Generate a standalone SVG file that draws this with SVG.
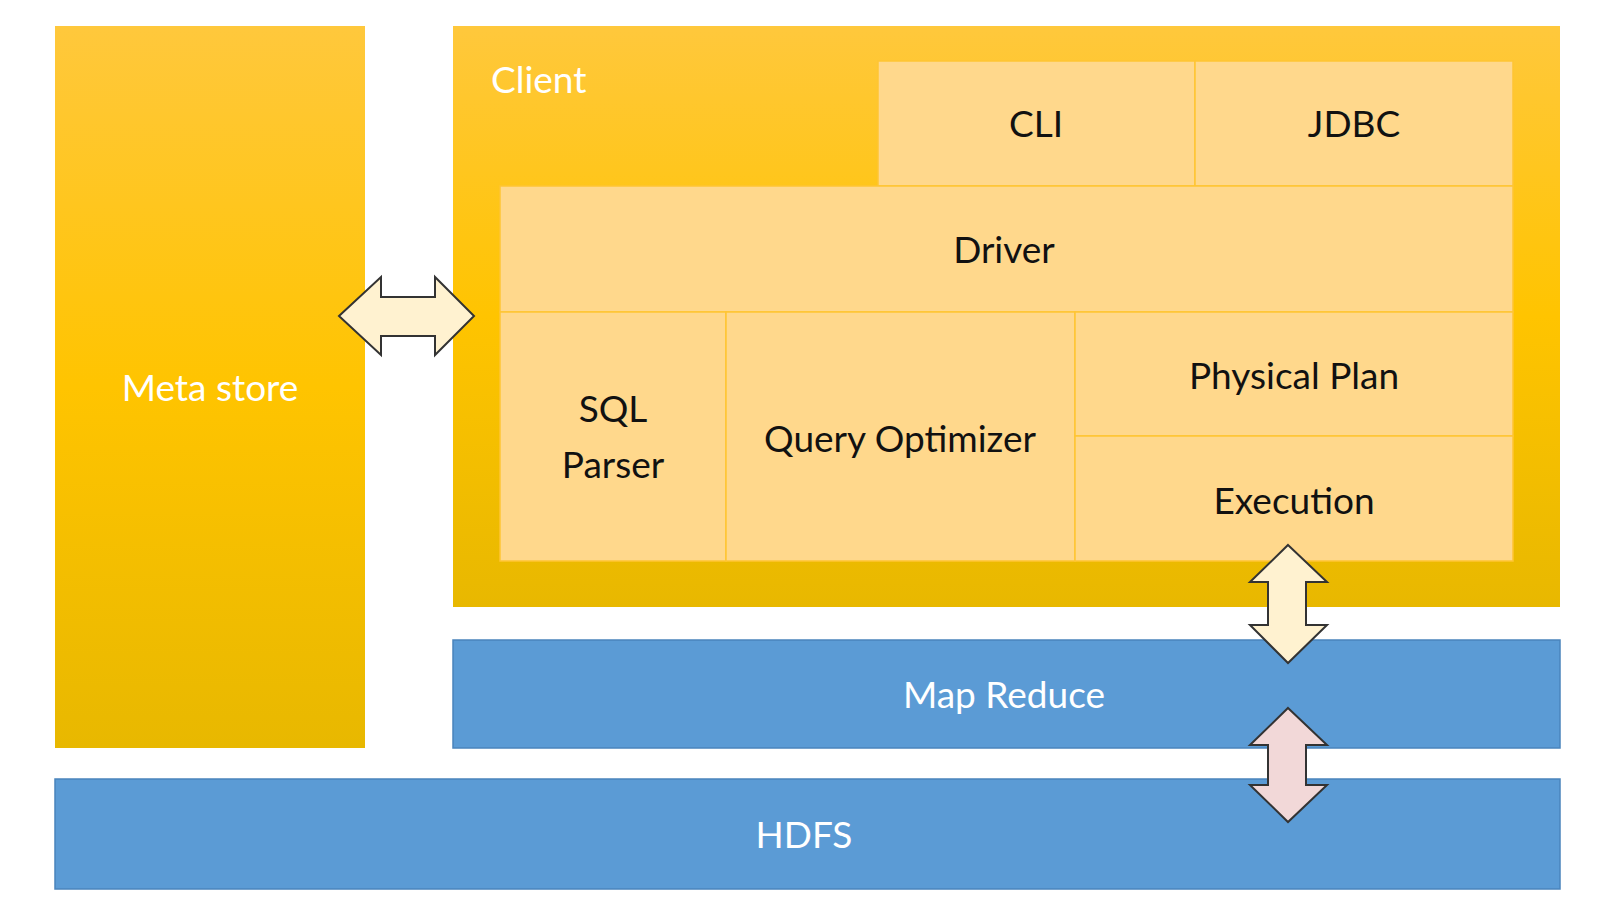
<svg xmlns="http://www.w3.org/2000/svg" width="1622" height="906" viewBox="0 0 1622 906">
<style>
.t{font-family:Lato,"Open Sans",sans-serif;font-size:37px;text-anchor:middle;fill:#111}
.w{fill:#fff}
.in{fill:#FFD88C;stroke:#FFC533;stroke-width:1.5}
.bl{fill:#5B9BD5;stroke:#4A84BC;stroke-width:1.5}
.ar{stroke:#333;stroke-width:2;stroke-linejoin:miter}
</style>
<defs>
<linearGradient id="g1" x1="0" y1="0" x2="0" y2="1"><stop offset="0" stop-color="#FFC83C"/><stop offset="0.5" stop-color="#FFC400"/><stop offset="1" stop-color="#E8B800"/></linearGradient>
</defs>
<rect width="1622" height="906" fill="#fff"/>
<g id="metastore"><rect x="55" y="26" width="310" height="722" fill="url(#g1)"/><text class="t w" x="210" y="401">Meta store</text></g>
<g id="client"><rect x="453" y="26" width="1107" height="581" fill="url(#g1)"/><text class="t w" x="491" y="93" text-anchor="start" style="text-anchor:start">Client</text></g>
<g id="cli"><rect class="in" x="878" y="61" width="317" height="125"/><text class="t" x="1036" y="137">CLI</text></g>
<g id="jdbc"><rect class="in" x="1195" y="61" width="318" height="125"/><text class="t" x="1354" y="137">JDBC</text></g>
<g id="driver"><rect class="in" x="500" y="186" width="1013" height="126"/><text class="t" x="1004" y="263">Driver</text></g>
<g id="sqlparser"><rect class="in" x="500" y="312" width="226" height="249"/><text class="t" x="613" y="422">SQL</text><text class="t" x="613" y="478">Parser</text></g>
<g id="optimizer"><rect class="in" x="726" y="312" width="349" height="249"/><text class="t" x="900" y="452">Query Optimizer</text></g>
<g id="physical"><rect class="in" x="1075" y="312" width="438" height="124"/><text class="t" x="1294" y="389">Physical Plan</text></g>
<g id="execution"><rect class="in" x="1075" y="436" width="438" height="125"/><text class="t" x="1294" y="514">Execution</text></g>
<g id="mapreduce"><rect class="bl" x="453" y="640" width="1107" height="108"/><text class="t w" x="1004" y="708">Map Reduce</text></g>
<g id="hdfs"><rect class="bl" x="55" y="779" width="1505" height="110"/><text class="t w" x="804" y="848">HDFS</text></g>
<g id="connectors">
<polygon class="ar" fill="#FFF2D0" points="339,316 381,277 381,297 435,297 435,277 474,316 435,355 435,336 381,336 381,355"/>
<polygon class="ar" fill="#FFF2D0" points="1288,545 1327,582 1306,582 1306,625 1327,625 1288,663 1250,625 1268,625 1268,582 1250,582"/>
<polygon class="ar" fill="#F2D8D8" points="1288,708 1327,745 1306,745 1306,785 1327,785 1288,822 1250,785 1268,785 1268,745 1250,745"/>
</g>
</svg>
